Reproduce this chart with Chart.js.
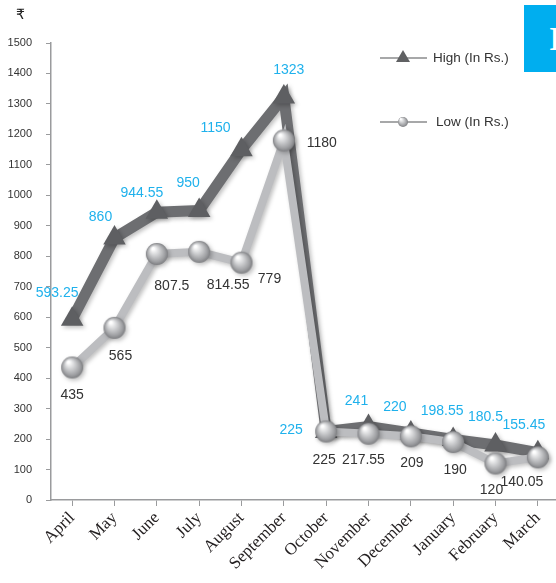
<!DOCTYPE html>
<html>
<head>
<meta charset="utf-8">
<script src="https://cdn.jsdelivr.net/npm/chart.js@4"></script>
<style>
  html,body{margin:0;padding:0;background:#fff;overflow:hidden}
  #wrap{position:relative;width:556px;height:583px;overflow:hidden}
  #c{position:absolute;left:0;top:0}
  #rupee{position:absolute;left:16px;top:6px;font:14px "DejaVu Sans","Noto Sans",sans-serif;color:#222}
  #tab{position:absolute;left:524px;top:5px;width:40px;height:67px;background:#00aeef;color:#fff;
       font:bold 34px "Liberation Serif",serif;line-height:67px;padding-left:25px;box-sizing:border-box}
</style>
</head>
<body>
<div id="wrap">
  <canvas id="c" width="560" height="583"></canvas>
  <div id="rupee">₹</div>
  <div id="tab">I</div>
</div>
<script>
// data
const months = ['April','May','June','July','August','September','October','November','December','January','February','March'];
const highValues = [593.25, 860, 944.55, 950, 1150, 1323, 225, 241, 220, 198.55, 180.5, 155.45];
const lowValues = [435, 565, 807.5, 814.55, 779, 1180, 225, 217.55, 209, 190, 120, 140.05];
const highText = ['593.25','860','944.55','950','1150','1323','225','241','220','198.55','180.5','155.45'];
const lowText = ['435','565','807.5','814.55','779','1180','225','217.55','209','190','120','140.05'];

// label placement relative to point (style only)
const highOff = [[-15,-26],[-14,-21],[-15,-19],[-11,-27],[-26,-21],[5,-27],[-35,-1],[-12,-25],[-16,-26],[-11,-28],[-10,-28],[-14,-27]];
const lowOff = [[0,28],[6,28],[15,32],[29,33],[28,16],[38,3],[-2,29],[-5,26],[1,27],[2,28],[-4,27],[-16,25]];

function sphere(r){
  const cv = document.createElement('canvas');
  cv.width = cv.height = r*2+2;
  const g = cv.getContext('2d');
  const grad = g.createRadialGradient(r*0.75, r*0.6, r*0.1, r+1, r+1, r);
  grad.addColorStop(0, '#ffffff');
  grad.addColorStop(0.35, '#d4d5d7');
  grad.addColorStop(0.8, '#9d9ea1');
  grad.addColorStop(1, '#7d7e81');
  g.fillStyle = grad;
  g.beginPath(); g.arc(r+1, r+1, r, 0, Math.PI*2); g.fill();
  return cv;
}
const bigBall = sphere(11);
const smallBall = sphere(5);

const labelPlugin = {
  id: 'labels',
  beforeDatasetsDraw(chart){
    const ctx = chart.ctx;
    ctx.save();
    ctx.shadowColor = 'rgba(0,0,0,0.25)';
    ctx.shadowBlur = 4; ctx.shadowOffsetX = 2; ctx.shadowOffsetY = 2;
  },
  afterDatasetsDraw(chart){
    const ctx = chart.ctx;
    ctx.restore();
    ctx.save();
    ctx.font = '14px "Liberation Sans", Arial, sans-serif';
    ctx.textAlign = 'center'; ctx.textBaseline = 'middle';
    const hm = chart.getDatasetMeta(0), lm = chart.getDatasetMeta(1);
    hm.data.forEach((p,i)=>{
      ctx.fillStyle = '#1fb1ec';
      ctx.fillText(highText[i], p.x+highOff[i][0], p.y+highOff[i][1]);
    });
    lm.data.forEach((p,i)=>{
      ctx.fillStyle = '#333333';
      ctx.fillText(lowText[i], p.x+lowOff[i][0], p.y+lowOff[i][1]);
    });
    // legend
    ctx.font = '13.5px "Liberation Sans", Arial, sans-serif';
    ctx.textAlign = 'left';
    ctx.strokeStyle = '#8a8b8d'; ctx.lineWidth = 1.5;
    ctx.beginPath(); ctx.moveTo(380,58); ctx.lineTo(427,58); ctx.stroke();
    ctx.beginPath(); ctx.moveTo(380,122); ctx.lineTo(427,122); ctx.stroke();
    ctx.fillStyle = '#606163';
    ctx.beginPath(); ctx.moveTo(403,50); ctx.lineTo(410,62); ctx.lineTo(396,62); ctx.closePath(); ctx.fill();
    ctx.drawImage(smallBall, 397, 116);
    ctx.fillStyle = '#333';
    ctx.fillText('High (In Rs.)', 433, 58);
    ctx.fillText('Low (In Rs.)', 436, 122);
    ctx.restore();
  }
};

new Chart(document.getElementById('c'), {
  type: 'line',
  data: {
    labels: months,
    datasets: [{
      label: 'High (In Rs.)',
      data: highValues,
      borderColor: '#6d6e71',
      borderWidth: 11,
      pointStyle: 'triangle',
      pointRadius: 13,
      pointBackgroundColor: '#5e5f62',
      pointBorderWidth: 0,
      tension: 0,
      order: 2
    },{
      label: 'Low (In Rs.)',
      data: lowValues,
      borderColor: '#bcbdc0',
      borderWidth: 8,
      pointStyle: bigBall,
      pointRadius: 11,
      tension: 0,
      order: 1
    }]
  },
  options: {
    responsive: false,
    animation: false,
    layout: { autoPadding: false, padding: { top: 43, right: 1, left: 0, bottom: 0 } },
    plugins: { legend: { display: false }, tooltip: { enabled: false } },
    scales: {
      x: {
        offset: true,
        grid: { display: true, drawOnChartArea: false, color: '#9a9b9d', tickLength: 6 },
        border: { color: '#9a9b9d', width: 1.5 },
        ticks: { minRotation: 45, maxRotation: 45, padding: 2, color: '#231f20',
                 font: { family: '"Liberation Serif", "Times New Roman", serif', size: 17 } },
        afterFit(s){ s.height = 83; s.paddingLeft = 0; s.paddingRight = 0; }
      },
      y: {
        min: 0, max: 1500,
        grid: { display: true, drawOnChartArea: false, color: '#9a9b9d', tickLength: 5 },
        border: { color: '#9a9b9d', width: 1.5 },
        ticks: { stepSize: 100, padding: 14, color: '#333', callback: v => String(v),
                 font: { family: '"Liberation Sans", Arial, sans-serif', size: 11 } },
        afterFit(s){ s.width = 51; s.paddingTop = 0; s.paddingBottom = 0; }
      }
    }
  },
  plugins: [labelPlugin]
});
</script>
</body>
</html>
